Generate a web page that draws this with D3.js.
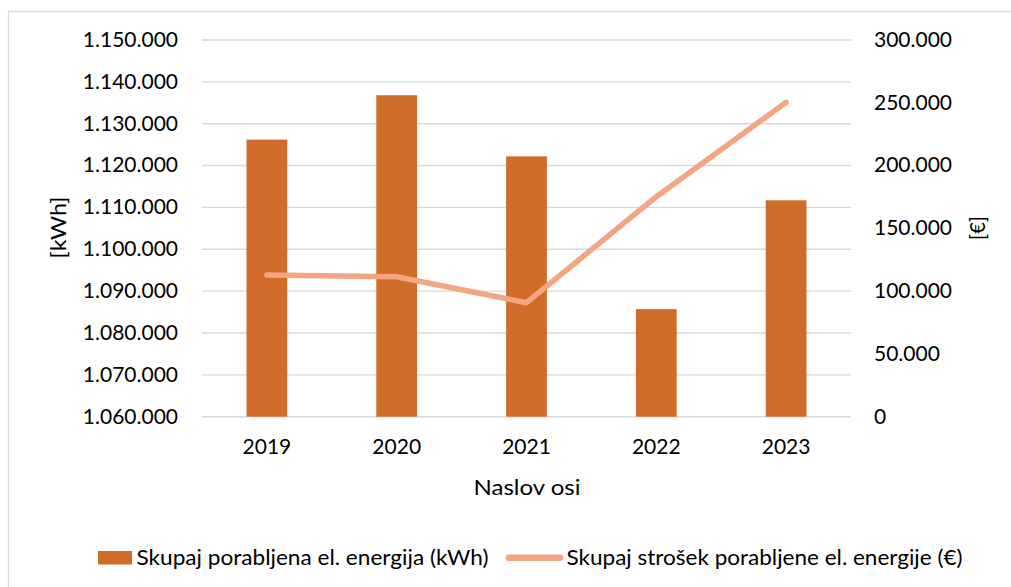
<!DOCTYPE html>
<html>
<head>
<meta charset="utf-8">
<script src="https://cdn.jsdelivr.net/npm/d3@7"></script>
<style>
  html, body { margin: 0; padding: 0; background: #fff; }
  svg { display: block; }
  text { font-family: Lato, "Open Sans", sans-serif; fill: #000; }
</style>
</head>
<body>
<script>
// ---- data ----
const years = ["2019", "2020", "2021", "2022", "2023"];
const energyKWh = [1126200, 1136800, 1122200, 1085700, 1111700];
const costEUR = [112800, 111500, 90800, 175200, 250400];
const leftTicks = [1060000, 1070000, 1080000, 1090000, 1100000, 1110000, 1120000, 1130000, 1140000, 1150000];
const rightTicks = [0, 50000, 100000, 150000, 200000, 250000, 300000];
const seriesNames = ["Skupaj porabljena el. energija (kWh)", "Skupaj strošek porabljene el. energije (€)"];
const xTitle = "Naslov osi";
const yLeftTitle = "[kWh]";
const yRightTitle = "[€]";

// ---- layout ----
const W = 1011, H = 587;
const plot = { left: 202, right: 851, top: 40, bottom: 416.7 };
const barColor = "#D16B28", lineColor = "#F4A683", gridColor = "#D9D9D9";

const loc = d3.formatLocale({ decimal: ",", thousands: ".", grouping: [3], currency: ["", "€"] });
const fmt = loc.format(",");

const svg = d3.select("body").append("svg").attr("width", W).attr("height", H);

// outer border
svg.append("rect").attr("x", 8.5).attr("y", 11.5).attr("width", 1010).attr("height", 600)
  .attr("fill", "none").attr("stroke", gridColor).attr("stroke-width", 1.3);

const x = d3.scaleBand().domain(years).range([plot.left, plot.right]).padding(0);
const yL = d3.scaleLinear().domain([1060000, 1150000]).range([plot.bottom, plot.top]);
const yR = d3.scaleLinear().domain([0, 300000]).range([plot.bottom, plot.top]);

// gridlines
svg.append("g").selectAll("line").data(leftTicks).join("line")
  .attr("x1", plot.left).attr("x2", plot.right)
  .attr("y1", d => yL(d)).attr("y2", d => yL(d))
  .attr("stroke", gridColor).attr("stroke-width", 1.4);

// left axis
const gL = svg.append("g").attr("transform", `translate(${plot.left},0)`)
  .call(d3.axisLeft(yL).tickValues(leftTicks).tickFormat(fmt).tickSize(0).tickPadding(24));
gL.select(".domain").remove();
gL.selectAll("text").attr("font-family", "Lato").attr("font-size", 21).attr("fill", "#000").attr("dy", "0.3em");

// right axis
const gR = svg.append("g").attr("transform", `translate(${plot.right},0)`)
  .call(d3.axisRight(yR).tickValues(rightTicks).tickFormat(fmt).tickSize(0).tickPadding(23));
gR.select(".domain").remove();
gR.selectAll("text").attr("font-family", "Lato").attr("font-size", 21).attr("fill", "#000").attr("dy", "0.3em");

// bars
const bw = x.bandwidth() * 0.314;
svg.append("g").selectAll("rect").data(years).join("rect")
  .attr("x", (d) => x(d) + x.bandwidth() / 2 - bw / 2)
  .attr("width", bw)
  .attr("y", (d, i) => yL(energyKWh[i]))
  .attr("height", (d, i) => plot.bottom - yL(energyKWh[i]))
  .attr("fill", barColor);

// line
const line = d3.line().x((d, i) => x(years[i]) + x.bandwidth() / 2).y(d => yR(d));
svg.append("path").datum(costEUR).attr("d", line)
  .attr("fill", "none").attr("stroke", lineColor).attr("stroke-width", 5.5)
  .attr("stroke-linejoin", "round").attr("stroke-linecap", "round");

// bottom axis
const gB = svg.append("g").attr("transform", `translate(0,${plot.bottom})`)
  .call(d3.axisBottom(x).tickSize(0).tickPadding(22.5));
gB.select(".domain").remove();
gB.selectAll("text").attr("font-family", "Lato").attr("font-size", 21).attr("fill", "#000");

// axis titles
svg.append("text").attr("x", 473.5).attr("y", 495)
  .attr("font-size", 22).attr("textLength", 107).attr("lengthAdjust", "spacingAndGlyphs").text(xTitle);
svg.append("text").attr("transform", "translate(66,258.5) rotate(-90)")
  .attr("font-size", 22).attr("textLength", 62).attr("lengthAdjust", "spacingAndGlyphs").text(yLeftTitle);
svg.append("text").attr("transform", "translate(985,240) rotate(-90)")
  .attr("font-size", 22).attr("textLength", 24).attr("lengthAdjust", "spacingAndGlyphs").text(yRightTitle);

// legend
const lg = svg.append("g");
lg.append("rect").attr("x", 98).attr("y", 551).attr("width", 34).attr("height", 13.5).attr("fill", barColor);
lg.append("text").attr("x", 136.5).attr("y", 564.5).attr("font-size", 21)
  .attr("textLength", 352).attr("lengthAdjust", "spacingAndGlyphs").text(seriesNames[0]);
lg.append("line").attr("x1", 509).attr("x2", 560).attr("y1", 557.7).attr("y2", 557.7)
  .attr("stroke", lineColor).attr("stroke-width", 6.5).attr("stroke-linecap", "round");
lg.append("text").attr("x", 566.5).attr("y", 564.5).attr("font-size", 21)
  .attr("textLength", 396).attr("lengthAdjust", "spacingAndGlyphs").text(seriesNames[1]);
</script>
</body>
</html>
